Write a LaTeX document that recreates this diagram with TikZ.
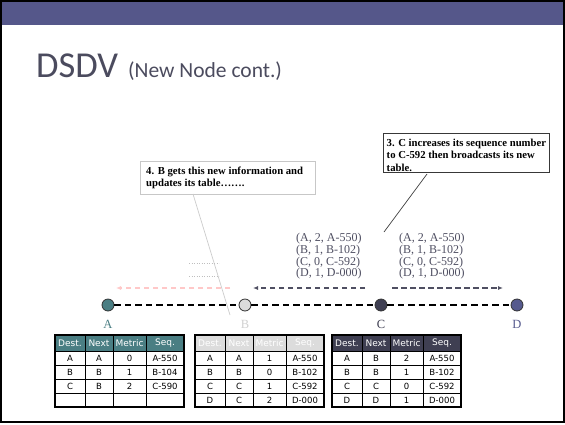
\documentclass[tikz,border=0pt]{standalone}
\usepackage{fontspec}
\setmainfont{Liberation Serif}
\newfontfamily\titlefont{Carlito}
\newfontfamily\tabfont{DejaVu Sans}
\usetikzlibrary{arrows.meta}

\definecolor{barpurple}{HTML}{55578A}
\definecolor{titlegray}{HTML}{4B4B5E}
\definecolor{tealA}{HTML}{4A7E83}
\definecolor{lightB}{HTML}{DCDCDC}
\definecolor{darkC}{HTML}{3F3F52}
\definecolor{blueD}{HTML}{565A8E}
\definecolor{pinkarrow}{HTML}{FFC8C8}
\definecolor{msggray}{HTML}{4F4F62}

\tikzset{
  bodycell/.style={draw=black, line width=0.7pt, minimum height=14pt, inner sep=0pt,
    font=\tabfont\fontsize{8.5}{9}\selectfont},
  headcell/.style={bodycell, minimum height=16pt, text=white,
    font=\tabfont\fontsize{9}{9}\selectfont},
  headA/.style={headcell, fill=tealA},
  headB/.style={headcell, fill=lightB},
  headC/.style={headcell, fill=darkC},
  netnode/.style={circle, draw=black!80, line width=0.8pt, minimum size=12pt, inner sep=0pt},
  netlabel/.style={font=\fontsize{12.5}{12.5}\selectfont, inner sep=0pt},
  mainline/.style={line width=1.8pt, black, dash pattern=on 6.5pt off 4pt},
  msgarrow/.style={line width=1.3pt, dash pattern=on 5.5pt off 3.5pt, -{Latex[length=5pt,width=4pt]}},
  msgtext/.style={align=left, inner sep=0pt, text=msggray, font=\fontsize{12}{11.8}\selectfont},
  notebox/.style={draw, line width=1.3pt, fill=white, inner sep=0pt, anchor=north west},
  notetext/.style={align=left, inner sep=0pt, anchor=west, font=\bfseries\fontsize{10.7}{12.3}\selectfont},
}

% one table row: style, name prefix, left x, centre y, four cell texts
\newcommand\tabrow[8]{%
  \node[#1, minimum width=30pt] (#2a) at ({#3+15},#4) {#5};
  \node[#1, minimum width=28pt] (#2b) at ({#3+44},#4) {#6};
  \node[#1, minimum width=33pt] (#2c) at ({#3+74.5},#4) {#7};
  \node[#1, minimum width=38pt] (#2d) at ({#3+110},#4) {#8};}

\begin{document}
\begin{tikzpicture}[x=1pt, y=-1pt]
\useasboundingbox (0,0) rectangle (565,424);

% slide frame and header bar
\fill[white] (0,0) rectangle (565,424);
\fill[barpurple] (2,2) rectangle (563,25);
\draw[line width=2pt, black] (1,1) rectangle (564,422);

% title
\node[anchor=base west, inner sep=0pt, text=titlegray, font=\titlefont\fontsize{36.5}{36.5}\selectfont]
  (title) at (36,77) {DSDV};
\node[anchor=base west, inner sep=0pt, text=titlegray, font=\titlefont\fontsize{21.5}{21.5}\selectfont]
  (subtitle) at (128,77) {(New Node cont.)};

% callout 4 (faded)
\node[notebox, draw=black!22, minimum width=175pt, minimum height=33pt] (note4) at (140,161) {};
\node[notetext] (note4txt) at ([xshift=6pt]note4.west)
  {4. B gets this new information and\\updates its table…….};
\coordinate (n4a) at (193,194);
\coordinate (n4b) at (230,315);
\draw[black!20, line width=0.7pt] (n4a) -- (n4b);

% callout 3
\node[notebox, draw=black!78, minimum width=166pt, minimum height=39pt] (note3) at (383,133) {};
\node[notetext] (note3txt) at ([xshift=3.5pt,yshift=-2pt]note3.west)
  {3. C increases its sequence number\\to C-592 then broadcasts its new\\table.};
\coordinate (n3a) at (427,174);
\coordinate (n3b) at (384,232);
\draw[black!75, line width=0.7pt] (n3a) -- (n3b);

% broadcast contents
\node[msgtext, anchor=north west] (msgL) at (296,233)
  {(A, 2, A-550)\\(B, 1, B-102)\\(C, 0, C-592)\\(D, 1, D-000)};
\node[msgtext, anchor=north west] (msgR) at (399,233)
  {(A, 2, A-550)\\(B, 1, B-102)\\(C, 0, C-592)\\(D, 1, D-000)};

% faint leftover entries
\coordinate (d1a) at (189,263); \coordinate (d1b) at (219,263);
\coordinate (d2a) at (189,276); \coordinate (d2b) at (219,276);
\draw[black!25, dotted, line width=0.5pt] (d1a) -- (d1b);
\draw[black!25, dotted, line width=0.5pt] (d2a) -- (d2b);

% broadcast arrows
\coordinate (pS) at (230,288); \coordinate (pE) at (116,288);
\coordinate (lS) at (365,288); \coordinate (lE) at (253,288);
\coordinate (rS) at (392,288); \coordinate (rE) at (503,288);
\draw[msgarrow, pinkarrow] (pS) -- (pE);
\draw[msgarrow, msggray] (lS) -- (lE);
\draw[msgarrow, msggray] (rS) -- (rE);

% network nodes and links
\node[netnode, fill=tealA] (nA) at (108,305) {};
\node[netnode, fill=lightB] (nB) at (245,305) {};
\node[netnode, fill=darkC] (nC) at (381,305) {};
\node[netnode, fill=blueD] (nD) at (517,305) {};
\draw[mainline] (nA) -- (nB);
\draw[mainline] (nB) -- (nC);
\draw[mainline] (nC) -- (nD);

\node[netlabel, text=tealA] (labA) at (108,324) {A};
\node[netlabel, text=black!18] (labB) at (245,324) {B};
\node[netlabel, text=darkC] (labC) at (381,324) {C};
\node[netlabel, text=blueD] (labD) at (517,324) {D};

% routing table of A
\tabrow{headA}{tA0}{55}{343}{Dest.}{Next}{Metric}{Seq.}
\tabrow{bodycell}{tA1}{55}{358}{A}{A}{0}{A-550}
\tabrow{bodycell}{tA2}{55}{372}{B}{B}{1}{B-104}
\tabrow{bodycell}{tA3}{55}{386}{C}{B}{2}{C-590}
\tabrow{bodycell}{tA4}{55}{400}{}{}{}{}
\draw[line width=2pt] (tA0a.north west) rectangle (tA4d.south east);

% routing table of B
\tabrow{headB}{tB0}{195}{343}{Dest.}{Next}{Metric}{Seq.}
\tabrow{bodycell}{tB1}{195}{358}{A}{A}{1}{A-550}
\tabrow{bodycell}{tB2}{195}{372}{B}{B}{0}{B-102}
\tabrow{bodycell}{tB3}{195}{386}{C}{C}{1}{C-592}
\tabrow{bodycell}{tB4}{195}{400}{D}{C}{2}{D-000}
\draw[line width=2pt] (tB0a.north west) rectangle (tB4d.south east);

% routing table of C
\tabrow{headC}{tC0}{332}{343}{Dest.}{Next}{Metric}{Seq.}
\tabrow{bodycell}{tC1}{332}{358}{A}{B}{2}{A-550}
\tabrow{bodycell}{tC2}{332}{372}{B}{B}{1}{B-102}
\tabrow{bodycell}{tC3}{332}{386}{C}{C}{0}{C-592}
\tabrow{bodycell}{tC4}{332}{400}{D}{D}{1}{D-000}
\draw[line width=2pt] (tC0a.north west) rectangle (tC4d.south east);
\end{tikzpicture}
\end{document}
